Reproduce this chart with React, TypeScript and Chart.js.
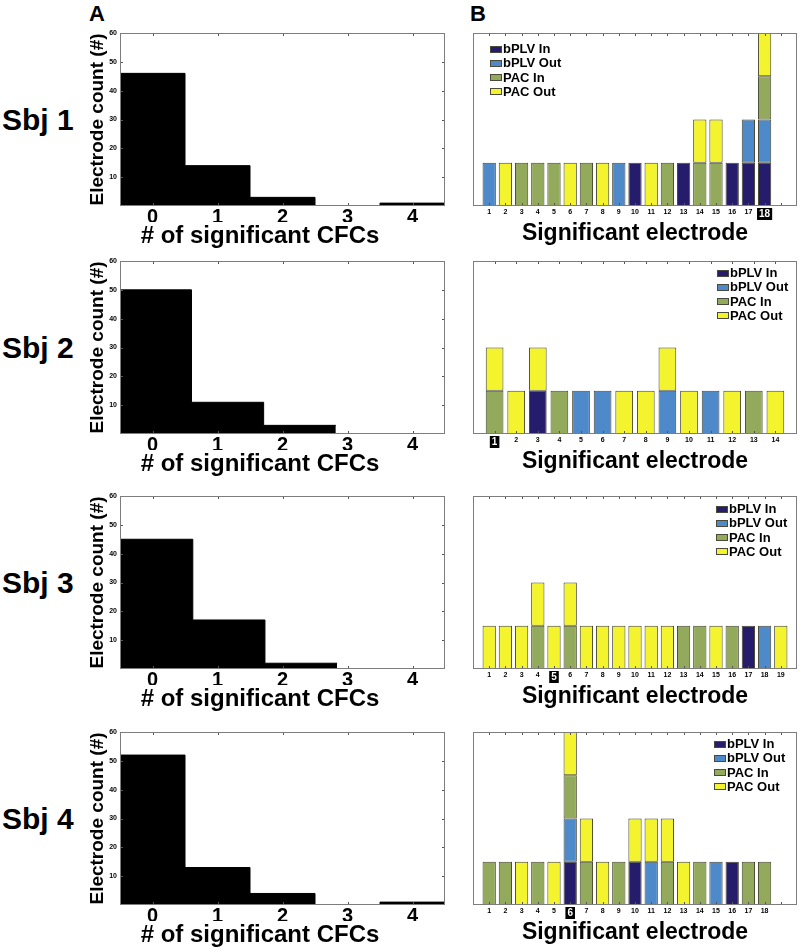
import React, { useEffect, useRef } from 'react';
import { Chart, registerables } from 'chart.js';

Chart.register(...registerables);

const FONT = '"Liberation Sans", Arial, Helvetica, sans-serif';
Chart.defaults.font.family = FONT;
Chart.defaults.color = '#000';

// ---------- Panel A: histogram of # of significant CFCs ----------
const cfcBins = [0, 1, 2, 3, 4];
const countTicks = [10, 20, 30, 40, 50, 60];

const sbj1Edges = [-0.5, 0.5, 1.5, 2.5, 3.5, 4.5];
const sbj1Counts = [46, 14, 3, 0, 1];
const sbj2Edges = [-0.5, 0.6, 1.71, 2.82];
const sbj2Counts = [50, 11, 3];
const sbj3Edges = [-0.5, 0.62, 1.73, 2.84];
const sbj3Counts = [45, 17, 2];
const sbj4Edges = [-0.5, 0.5, 1.5, 2.5, 3.5, 4.5];
const sbj4Counts = [52, 13, 4, 0, 1];

// ---------- Panel B: significant electrodes (1 = significant) ----------
const seriesNames = ['bPLV In', 'bPLV Out', 'PAC In', 'PAC Out'];
const seriesColors = ['#251c6b', '#4e89c9', '#93aa5c', '#f4f42e'];

const sbj1BplvIn = [0, 0, 0, 0, 0, 0, 0, 0, 0, 1, 0, 0, 1, 0, 0, 1, 1, 1];
const sbj1BplvOut = [1, 0, 0, 0, 0, 0, 0, 0, 1, 0, 0, 0, 0, 0, 0, 0, 1, 1];
const sbj1PacIn = [0, 0, 1, 1, 1, 0, 1, 0, 0, 0, 0, 1, 0, 1, 1, 0, 0, 1];
const sbj1PacOut = [0, 1, 0, 0, 0, 1, 0, 1, 0, 0, 1, 0, 0, 1, 1, 0, 0, 1];

const sbj2BplvIn = [0, 0, 1, 0, 0, 0, 0, 0, 0, 0, 0, 0, 0, 0];
const sbj2BplvOut = [0, 0, 0, 0, 1, 1, 0, 0, 1, 0, 1, 0, 0, 0];
const sbj2PacIn = [1, 0, 0, 1, 0, 0, 0, 0, 0, 0, 0, 0, 1, 0];
const sbj2PacOut = [1, 1, 1, 0, 0, 0, 1, 1, 1, 1, 0, 1, 0, 1];

const sbj3BplvIn = [0, 0, 0, 0, 0, 0, 0, 0, 0, 0, 0, 0, 0, 0, 0, 0, 1, 0, 0];
const sbj3BplvOut = [0, 0, 0, 0, 0, 0, 0, 0, 0, 0, 0, 0, 0, 0, 0, 0, 0, 1, 0];
const sbj3PacIn = [0, 0, 0, 1, 0, 1, 0, 0, 0, 0, 0, 0, 1, 1, 0, 1, 0, 0, 0];
const sbj3PacOut = [1, 1, 1, 1, 1, 1, 1, 1, 1, 1, 1, 1, 0, 0, 1, 0, 0, 0, 1];

const sbj4BplvIn = [0, 0, 0, 0, 0, 1, 0, 0, 0, 1, 0, 0, 0, 0, 0, 1, 0, 0];
const sbj4BplvOut = [0, 0, 0, 0, 0, 1, 0, 0, 0, 0, 1, 0, 0, 0, 1, 0, 0, 0];
const sbj4PacIn = [1, 1, 0, 1, 0, 1, 1, 0, 1, 0, 0, 1, 0, 1, 0, 0, 1, 1];
const sbj4PacOut = [0, 0, 1, 0, 1, 1, 1, 1, 0, 1, 1, 1, 1, 0, 0, 0, 0, 0];

const subjectLabels = ['Sbj 1', 'Sbj 2', 'Sbj 3', 'Sbj 4'];
const highlightElectrodes = [18, 1, 5, 6];
const electrodeAxisMax = [20, 15, 20, 20];

// layout (chart-area tops of the rows)
const rowTops = [33, 261, 496, 732];
const PLOT_H = 173;

// ---------- plugins ----------
const boxPlugin: any = {
  id: 'matlabBox',
  afterDatasetsDraw(chart: any, _args: any, opts: any) {
    const { ctx, chartArea } = chart;
    const { left, right, top, bottom } = chartArea;
    const L = 3;
    ctx.save();
    ctx.lineWidth = 1;
    ctx.strokeStyle = '#555';
    const seg = (x1: number, y1: number, x2: number, y2: number) => {
      ctx.beginPath();
      ctx.moveTo(x1, y1);
      ctx.lineTo(x2, y2);
      ctx.stroke();
    };
    const xs = chart.scales.x;
    if (opts && opts.xTicks && xs) {
      xs.ticks.forEach((t: any) => {
        if (t.value <= xs.min || t.value >= xs.max) return;
        const px = Math.round(xs.getPixelForValue(t.value)) + 0.5;
        seg(px, top, px, top + L);
        seg(px, bottom, px, bottom - L);
      });
    }
    const ys = chart.scales.y;
    if (opts && opts.yTicks && ys) {
      ys.ticks.forEach((t: any) => {
        if (t.value <= ys.min || t.value >= ys.max) return;
        const py = Math.round(ys.getPixelForValue(t.value)) + 0.5;
        seg(left, py, left + L, py);
        seg(right, py, right - L, py);
      });
    }
    ctx.strokeStyle = '#7d7d7d';
    ctx.strokeRect(Math.round(left) + 0.5, Math.round(top) + 0.5, Math.round(right - left) - 1, Math.round(bottom - top) - 1);
    ctx.restore();
  },
};

const insideLegend: any = {
  id: 'insideLegend',
  afterDatasetsDraw(chart: any, _args: any, opts: any) {
    if (!opts || !opts.side) return;
    const { ctx, chartArea } = chart;
    const x0 = opts.side === 'left' ? chartArea.left + opts.dx : chartArea.right - opts.dx;
    let y = chartArea.top + opts.dy;
    ctx.save();
    ctx.font = `bold 13px ${FONT}`;
    ctx.textBaseline = 'middle';
    ctx.textAlign = 'left';
    chart.data.datasets.forEach((ds: any) => {
      ctx.fillStyle = ds.backgroundColor;
      ctx.fillRect(x0, Math.round(y - 3.5), 12, 7);
      ctx.strokeStyle = '#4a4a3a';
      ctx.lineWidth = 1;
      ctx.strokeRect(x0 + 0.5, Math.round(y - 3.5) + 0.5, 11, 6);
      ctx.fillStyle = '#000';
      ctx.fillText(ds.label, x0 + 13, y + 0.5);
      y += 14.3;
    });
    ctx.restore();
  },
};

// ---------- components ----------
function HistChart({ top, edges, counts }: { top: number; edges: number[]; counts: number[] }) {
  const ref = useRef<HTMLCanvasElement>(null);
  useEffect(() => {
    const pts = edges.map((e, i) => ({ x: e, y: counts[Math.min(i, counts.length - 1)] }));
    const chart = new Chart(ref.current as HTMLCanvasElement, {
      type: 'line',
      data: {
        datasets: [
          {
            data: pts,
            stepped: true,
            fill: 'origin',
            backgroundColor: '#000',
            borderColor: '#000',
            borderWidth: 1,
            pointRadius: 0,
          } as any,
        ],
      },
      options: {
        animation: false,
        responsive: false,
        layout: { padding: { top: 10, right: 5, left: 0, bottom: 0 } },
        plugins: {
          legend: { display: false },
          tooltip: { enabled: false },
          title: {
            display: true,
            position: 'bottom',
            text: '# of significant CFCs',
            color: '#000',
            font: { family: FONT, size: 24, weight: 'bold', lineHeight: 1 },
            padding: { top: 2, bottom: 0 },
          },
          matlabBox: { xTicks: true, yTicks: true },
        } as any,
        scales: {
          x: {
            type: 'linear',
            min: -0.5,
            max: 4.5,
            offset: false,
            grid: { display: false, drawTicks: false },
            border: { display: false },
            afterBuildTicks: (s: any) => {
              s.ticks = cfcBins.map((v) => ({ value: v }));
            },
            ticks: {
              autoSkip: false,
              maxRotation: 0,
              padding: 1,
              color: '#000',
              font: { family: FONT, size: 20, weight: 'bold', lineHeight: 1 },
              callback: (v: any) => String(v),
            },
            afterFit: (s: any) => {
              s.height = 16;
            },
          } as any,
          y: {
            type: 'linear',
            min: 0,
            max: 60,
            grid: { display: false, drawTicks: false },
            border: { display: false },
            ticks: {
              stepSize: 10,
              padding: 3,
              color: '#000',
              font: { family: FONT, size: 7, weight: 'bold', lineHeight: 1 },
              callback: (v: any) => (countTicks.includes(Number(v)) ? String(v) : ''),
            },
            title: {
              display: true,
              text: 'Electrode count (#)',
              color: '#000',
              font: { family: FONT, size: 19, weight: 'bold', lineHeight: 1 },
              padding: { top: 13, bottom: 0 },
            },
            afterFit: (s: any) => {
              s.width = 45;
            },
          } as any,
        },
      },
      plugins: [boxPlugin],
    });
    return () => chart.destroy();
  }, []);
  return (
    <canvas
      ref={ref}
      width={375}
      height={10 + PLOT_H + 16 + 26}
      style={{ position: 'absolute', left: 75, top: top - 10, display: 'block' }}
    />
  );
}

function ElecChart({
  top,
  series,
  highlight,
  xMax,
  legend,
}: {
  top: number;
  series: number[][];
  highlight: number;
  xMax: number;
  legend: { side: string; dx: number; dy: number };
}) {
  const ref = useRef<HTMLCanvasElement>(null);
  useEffect(() => {
    const n = series[0].length;
    const chart = new Chart(ref.current as HTMLCanvasElement, {
      type: 'bar',
      data: {
        datasets: seriesNames.map((name, k) => ({
          label: name,
          data: series[k].map((v, i) => ({ x: i + 1, y: v ? 1 : null })),
          backgroundColor: seriesColors[k],
          borderColor: '#45452f',
          borderWidth: 1,
          borderSkipped: false,
          barPercentage: 0.82,
          categoryPercentage: 1,
        })) as any,
      },
      options: {
        animation: false,
        responsive: false,
        layout: { padding: { top: 10, right: 3, left: 3, bottom: 0 } },
        plugins: {
          legend: { display: false },
          tooltip: { enabled: false },
          title: {
            display: true,
            position: 'bottom',
            text: 'Significant electrode',
            color: '#000',
            font: { family: FONT, size: 23, weight: 'bold', lineHeight: 1 },
            padding: { top: 2, bottom: 0 },
          },
          matlabBox: { xTicks: true, yTicks: false },
          insideLegend: legend,
        } as any,
        scales: {
          x: {
            type: 'linear',
            stacked: true,
            min: 0,
            max: xMax,
            offset: false,
            grid: { display: false, drawTicks: false },
            border: { display: false },
            ticks: {
              stepSize: 1,
              autoSkip: false,
              maxRotation: 0,
              padding: 3,
              color: (c: any) => (c.tick && c.tick.value === highlight ? '#fff' : '#000'),
              font: (c: any) => ({
                family: FONT,
                size: c.tick && c.tick.value === highlight ? 10 : 7,
                weight: 'bold',
                lineHeight: 1,
              }),
              showLabelBackdrop: (c: any) => !!(c.tick && c.tick.value === highlight),
              backdropColor: '#000',
              backdropPadding: { top: 1, bottom: 1, left: 2, right: 2 },
              callback: (v: any) => (Number(v) >= 1 && Number(v) <= n ? String(v) : ''),
            },
            afterFit: (s: any) => {
              s.height = 14;
            },
          } as any,
          y: {
            display: false,
            stacked: true,
            min: 0,
            max: 4,
          } as any,
        },
      },
      plugins: [boxPlugin, insideLegend],
    });
    return () => chart.destroy();
  }, []);
  return (
    <canvas
      ref={ref}
      width={330}
      height={10 + PLOT_H + 14 + 25}
      style={{ position: 'absolute', left: 470, top: top - 10, display: 'block' }}
    />
  );
}

const histEdges = [sbj1Edges, sbj2Edges, sbj3Edges, sbj4Edges];
const histCounts = [sbj1Counts, sbj2Counts, sbj3Counts, sbj4Counts];
const elecSeries = [
  [sbj1BplvIn, sbj1BplvOut, sbj1PacIn, sbj1PacOut],
  [sbj2BplvIn, sbj2BplvOut, sbj2PacIn, sbj2PacOut],
  [sbj3BplvIn, sbj3BplvOut, sbj3PacIn, sbj3PacOut],
  [sbj4BplvIn, sbj4BplvOut, sbj4PacIn, sbj4PacOut],
];
const legendPlacement = [
  { side: 'left', dx: 17, dy: 16 },
  { side: 'right', dx: 80, dy: 12 },
  { side: 'right', dx: 81, dy: 13 },
  { side: 'right', dx: 83, dy: 12 },
];

const textBase: React.CSSProperties = {
  position: 'absolute',
  fontFamily: FONT,
  fontWeight: 'bold',
  color: '#000',
  whiteSpace: 'nowrap',
};

export default function App() {
  return (
    <div style={{ position: 'absolute', left: 0, top: 0, width: 800, height: 950, background: '#fff' }}>
      <div style={{ ...textBase, left: 89, top: 3, fontSize: 22, lineHeight: '22px' }}>A</div>
      <div style={{ ...textBase, left: 470, top: 3, fontSize: 22, lineHeight: '22px' }}>B</div>
      {rowTops.map((t, i) => (
        <React.Fragment key={i}>
          <div style={{ ...textBase, left: 2, top: t + PLOT_H / 2 - 15, fontSize: 30, lineHeight: '30px' }}>
            {subjectLabels[i]}
          </div>
          <HistChart top={t} edges={histEdges[i]} counts={histCounts[i]} />
          <ElecChart
            top={t}
            series={elecSeries[i]}
            highlight={highlightElectrodes[i]}
            xMax={electrodeAxisMax[i]}
            legend={legendPlacement[i]}
          />
        </React.Fragment>
      ))}
    </div>
  );
}
